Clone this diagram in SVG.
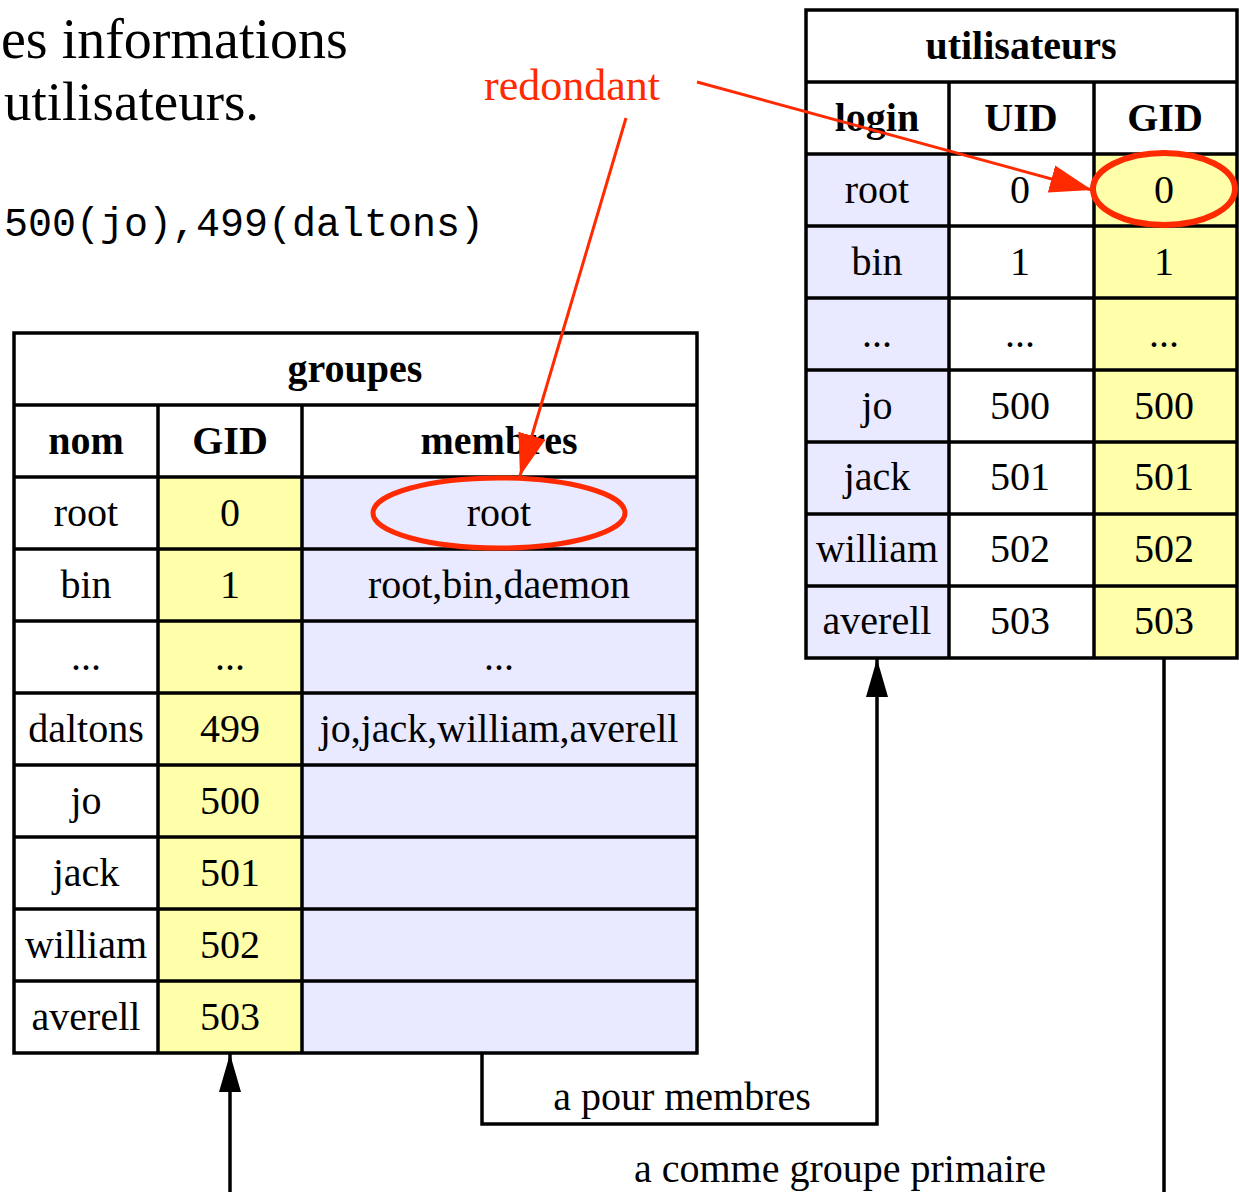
<svg xmlns="http://www.w3.org/2000/svg" width="1239" height="1192" viewBox="0 0 1239 1192">
<defs>
<style>
.t{font-family:"Liberation Serif",serif;font-size:40px;fill:#000;text-anchor:middle}
.b{font-weight:bold}
.ln{stroke:#000;stroke-width:3.5;fill:none}
.y{fill:#ffffaa}
.l{fill:#e9e9ff}
.red{stroke:#ff2a00;fill:none}
</style>
<marker id="ah" markerUnits="userSpaceOnUse" markerWidth="40" markerHeight="24" refX="38" refY="11" orient="auto">
<path d="M0,0 L38,11 L0,22 Z" fill="#000"/>
</marker>
<marker id="rh" markerUnits="userSpaceOnUse" markerWidth="44" markerHeight="30" refX="42" refY="14" orient="auto">
<path d="M0,0 L42,14 L0,28 Z" fill="#ff2a00"/>
</marker>
</defs>
<rect width="1239" height="1192" fill="#fff"/>

<g id="intro">
<text x="1" y="58" font-family="Liberation Serif,serif" font-size="56">es informations</text>
<text x="4" y="120" font-family="Liberation Serif,serif" font-size="55">utilisateurs.</text>
<text x="4" y="236" font-family="Liberation Mono,monospace" font-size="40">500(jo),499(daltons)</text>
</g>

<g id="redondant">
<text x="572" y="100" font-family="Liberation Serif,serif" font-size="44" fill="#ff2a00" text-anchor="middle">redondant</text>
</g>

<g id="groupes">
<rect x="14" y="333" width="683" height="720" fill="#fff"/>
<rect class="y" x="158" y="477" width="144" height="576"/>
<rect class="l" x="302" y="477" width="395" height="576"/>
<path class="ln" d="M14,405H697M14,477H697M14,549H697M14,621H697M14,693H697M14,765H697M14,837H697M14,909H697M14,981H697M158,405V1053M302,405V1053"/>
<rect class="ln" x="14" y="333" width="683" height="720"/>
<text class="t b" x="355" y="382">groupes</text>
<text class="t b" x="86" y="454">nom</text>
<text class="t b" x="230" y="454">GID</text>
<text class="t b" x="499" y="454">membres</text>
<text class="t" x="86" y="526">root</text><text class="t" x="230" y="526">0</text><text class="t" x="499" y="526">root</text>
<text class="t" x="86" y="598">bin</text><text class="t" x="230" y="598">1</text><text class="t" x="499" y="598">root,bin,daemon</text>
<text class="t" x="86" y="670">...</text><text class="t" x="230" y="670">...</text><text class="t" x="499" y="670">...</text>
<text class="t" x="86" y="742">daltons</text><text class="t" x="230" y="742">499</text><text class="t" x="499" y="742">jo,jack,william,averell</text>
<text class="t" x="86" y="814">jo</text><text class="t" x="230" y="814">500</text>
<text class="t" x="86" y="886">jack</text><text class="t" x="230" y="886">501</text>
<text class="t" x="86" y="958">william</text><text class="t" x="230" y="958">502</text>
<text class="t" x="86" y="1030">averell</text><text class="t" x="230" y="1030">503</text>
</g>

<g id="utilisateurs">
<rect x="806" y="10" width="431" height="648" fill="#fff"/>
<rect class="l" x="806" y="154" width="143" height="504"/>
<rect class="y" x="1094" y="154" width="143" height="504"/>
<path class="ln" d="M806,82H1237M806,154H1237M806,226H1237M806,298H1237M806,370H1237M806,442H1237M806,514H1237M806,586H1237M949,82V658M1094,82V658"/>
<rect class="ln" x="806" y="10" width="431" height="648"/>
<text class="t b" x="1021" y="59">utilisateurs</text>
<text class="t b" x="877" y="131">login</text>
<text class="t b" x="1021" y="131">UID</text>
<text class="t b" x="1165" y="131">GID</text>
<text class="t" x="877" y="203">root</text><text class="t" x="1020" y="203">0</text><text class="t" x="1164" y="203">0</text>
<text class="t" x="877" y="275">bin</text><text class="t" x="1020" y="275">1</text><text class="t" x="1164" y="275">1</text>
<text class="t" x="877" y="347">...</text><text class="t" x="1020" y="347">...</text><text class="t" x="1164" y="347">...</text>
<text class="t" x="877" y="419">jo</text><text class="t" x="1020" y="419">500</text><text class="t" x="1164" y="419">500</text>
<text class="t" x="877" y="490">jack</text><text class="t" x="1020" y="490">501</text><text class="t" x="1164" y="490">501</text>
<text class="t" x="877" y="562">william</text><text class="t" x="1020" y="562">502</text><text class="t" x="1164" y="562">502</text>
<text class="t" x="877" y="634">averell</text><text class="t" x="1020" y="634">503</text><text class="t" x="1164" y="634">503</text>
</g>

<g id="connectors">
<path class="ln" d="M230,1192V1054" marker-end="url(#ah)"/>
<path class="ln" d="M482,1053V1124H877V659" marker-end="url(#ah)"/>
<path class="ln" d="M1164,658V1192"/>
<text class="t" x="682" y="1110">a pour membres</text>
<text class="t" x="840" y="1182">a comme groupe primaire</text>
<ellipse class="red" cx="499" cy="513" rx="126" ry="35" stroke-width="5"/>
<ellipse class="red" cx="1164" cy="189" rx="71" ry="36" stroke-width="6"/>
<path class="red" stroke-width="3" d="M626,118L520,476" marker-end="url(#rh)"/>
<path class="red" stroke-width="3" d="M697,82L1092,190" marker-end="url(#rh)"/>
</g>
</svg>
